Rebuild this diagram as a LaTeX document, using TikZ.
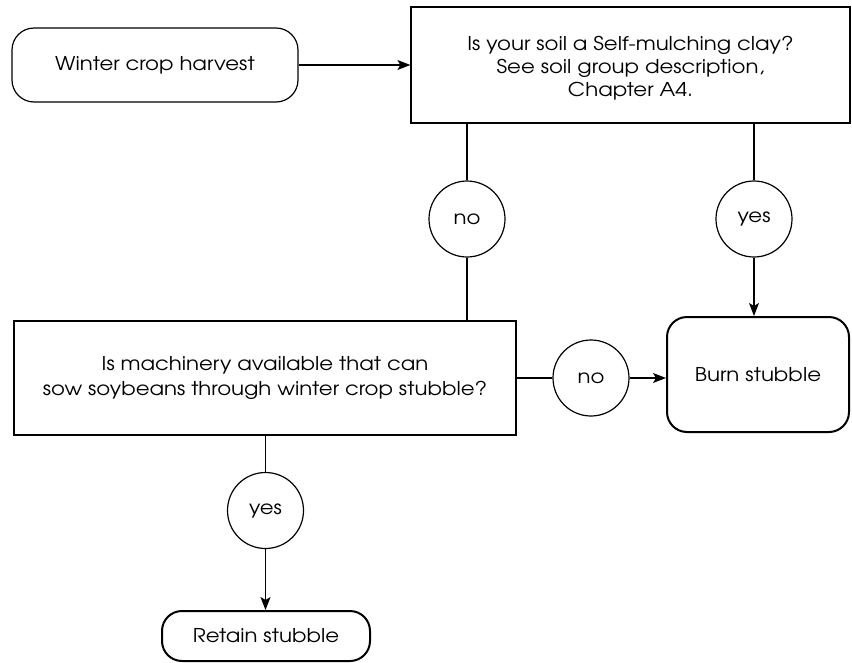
\documentclass[tikz,border=0pt]{standalone}
\usepackage{fontspec}
\setmainfont{texgyreadventor}[Extension=.otf, UprightFont=*-regular, BoldFont=*-bold, FakeStretch=1.12]
\usetikzlibrary{arrows.meta}
\begin{document}
\begin{tikzpicture}[x=1pt, y=-1pt,
  every node/.style={font=\fontsize{19}{22}\selectfont, align=center, inner sep=0pt},
  thin line/.style={line width=1.2pt},
  startbox/.style={draw, thin line, rounded corners=22pt, minimum width=286pt, minimum height=74pt},
  qbox/.style={draw, thin line, rectangle},
  endbox/.style={draw, line width=2pt, rounded corners=20pt},
  answer/.style={draw, thin line, circle, minimum size=76pt},
  link/.style={thin line},
  arrow/.style={thin line, -{Stealth[length=13pt, width=10pt, inset=3pt]}}
]
\useasboundingbox (0,0) rectangle (852,662);
\node[startbox] (start) at (155,65) {Winter crop harvest};
\node[qbox, minimum width=439pt, minimum height=116pt] (q1) at (630.5,65) {};
\node[font=\fontsize{19}{23}\selectfont] (q1text) at (630.5,68.5)
  {Is your soil a Self-mulching clay?\\See soil group description,\\Chapter A4.};
\node[answer] (no1) at (467,219) {no};
\node[answer] (yes1) at (754,219) {yes};
\node[qbox, minimum width=502pt, minimum height=114pt, font=\fontsize{19}{25}\selectfont] (q2) at (265,378)
  {Is machinery available that can\\sow soybeans through winter crop stubble?};
\node[endbox, minimum width=182pt, minimum height=115pt] (burn) at (758,374.5) {Burn stubble};
\node[answer] (no2) at (591,378) {no};
\node[answer] (yes2) at (265.5,510.5) {yes};
\node[endbox, minimum width=208pt, minimum height=50pt] (retain) at (266,636) {Retain stubble};

\draw[arrow] (start.east) -- (start.east -| q1.west);
\draw[link] (no1 |- q1.south) -- (no1);
\draw[link] (no1) -- (no1 |- q2.north);
\draw[link] (yes1 |- q1.south) -- (yes1);
\draw[arrow] (yes1) -- (yes1 |- burn.north);
\draw[link] (q2.east |- no2) -- (no2);
\draw[arrow] (no2) -- (no2 -| burn.west);
\draw[link] (yes2 |- q2.south) -- (yes2);
\draw[arrow] (yes2) -- (yes2 |- retain.north);
\end{tikzpicture}
\end{document}
